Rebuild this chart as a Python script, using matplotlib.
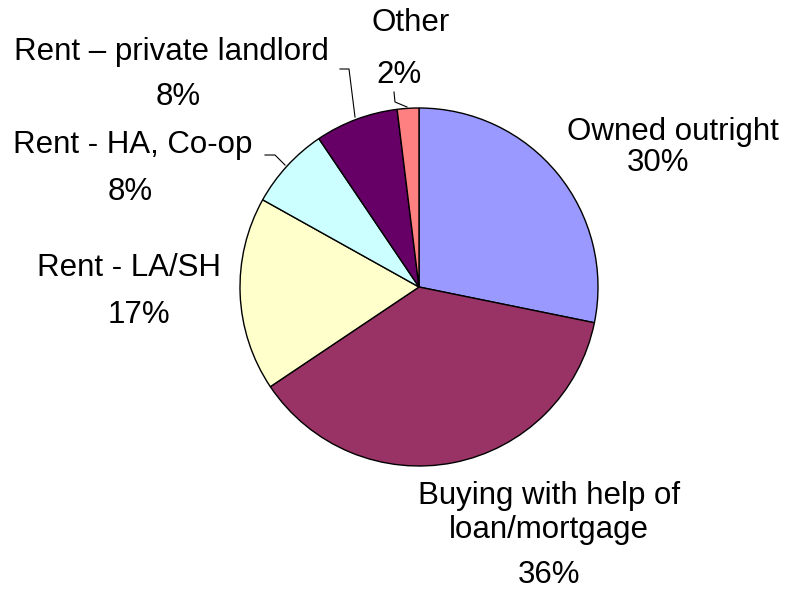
import matplotlib.pyplot as plt

# housing tenure shares (clockwise from 12 o'clock)
tenures = ["Owned outright", "Buying with help of loan/mortgage", "Rent - LA/SH",
           "Rent - HA, Co-op", "Rent – private landlord", "Other"]
shares = [28.2, 37.4, 17.5, 7.45, 7.5, 1.95]
pct_labels = ["30%", "36%", "17%", "8%", "8%", "2%"]
colors = ["#9999FF", "#993366", "#FFFFCC", "#CCFFFF", "#660066", "#FF8080"]

W, H = 788, 589


def py(y):
    # pixel row (from top) -> data y
    return H - y


def main():
    plt.rcParams['font.family'] = ['Liberation Sans', 'DejaVu Sans']
    fig = plt.figure(figsize=(7.88, 5.89), dpi=100)
    ax = fig.add_axes([0, 0, 1, 1])

    ax.pie(shares, colors=colors, startangle=90, counterclock=False,
           center=(419, py(287)), radius=179, frame=True,
           wedgeprops=dict(edgecolor='black', linewidth=1.0))
    ax.set_xlim(0, W)
    ax.set_ylim(0, H)
    ax.set_aspect('equal')
    ax.axis('off')

    fs = 22.5
    # label text positions (centre x, centre y in pixels from top)
    ax.text(673, py(132), tenures[0], ha='center', va='center', fontsize=fs)
    ax.text(658, py(163), pct_labels[0], ha='center', va='center', fontsize=fs)

    ax.text(549, py(496), "Buying with help of", ha='center', va='center', fontsize=fs)
    ax.text(549, py(530), "loan/mortgage", ha='center', va='center', fontsize=fs)
    ax.text(549, py(575), pct_labels[1], ha='center', va='center', fontsize=fs)

    ax.text(129, py(268), tenures[2], ha='center', va='center', fontsize=fs)
    ax.text(139, py(315), pct_labels[2], ha='center', va='center', fontsize=fs)

    ax.text(133, py(145), tenures[3], ha='center', va='center', fontsize=fs)
    ax.text(130, py(192), pct_labels[3], ha='center', va='center', fontsize=fs)

    ax.text(171, py(52), tenures[4], ha='center', va='center', fontsize=fs)
    ax.text(178, py(97), pct_labels[4], ha='center', va='center', fontsize=fs)

    ax.text(411, py(23), tenures[5], ha='center', va='center', fontsize=fs)
    ax.text(399, py(75), pct_labels[5], ha='center', va='center', fontsize=fs)

    # leader lines
    lc = dict(color='black', linewidth=0.8)
    ax.plot([265, 275, 285], [py(155), py(155), py(165)], **lc)
    ax.plot([340, 349, 355], [py(69), py(69), py(117)], **lc)
    ax.plot([394, 395, 407], [py(92), py(102), py(107)], **lc)

    fig.savefig("out.png", dpi=100, facecolor='white')


if __name__ == "__main__":
    main()
